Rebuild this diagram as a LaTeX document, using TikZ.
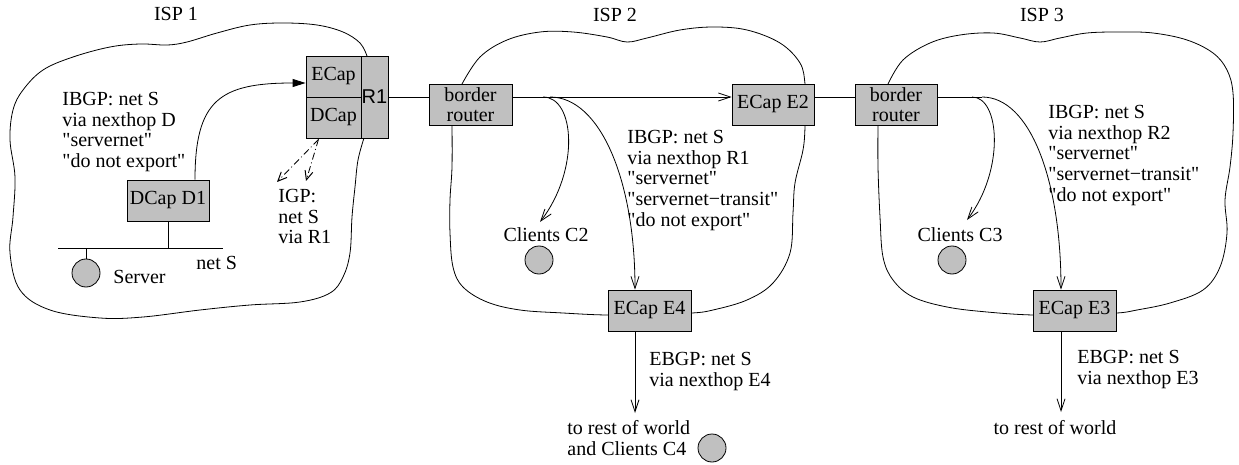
\documentclass[tikz,border=0pt]{standalone}
\usepackage{fontspec}
\setmainfont{Liberation Serif}[Ligatures=TeXOff]
\newfontfamily\arialfont{Liberation Sans}
\usetikzlibrary{arrows.meta,calc}
\definecolor{boxgray}{RGB}{192,192,192}
\begin{document}
\begin{tikzpicture}[x=1pt,y=-1pt,line width=0.8pt,
  every node/.style={font=\fontsize{20}{20.7}\selectfont,inner sep=0pt},
  box/.style={draw,fill=boxgray,minimum width=83pt,minimum height=41pt},
  circ/.style={circle,draw,fill=boxgray,minimum size=28pt},
  txt/.style={align=left,anchor=north west},
  barb/.style={-{Straight Barb[length=12pt,width=8pt]}},
  solidtip/.style={-{Triangle[length=13pt,width=8pt]}},
  igp/.style={dash pattern=on 7pt off 3pt on 1pt off 3pt,-{Straight Barb[length=9pt,width=8pt,line width=1pt]}},
  cloud/.style={smooth,tension=0.6}]
\useasboundingbox (0,0) rectangle (1239,465);

% clouds
\draw plot[cloud] coordinates {(367,56) (360,43) (343,32) (317,25) (283,23) (250,25) (217,33) (187,42) (167,45) (140,44) (110,47) (73,57) (43,70) (23,90) (13,110) (10,140) (15,177) (13,217) (10,253) (20,290) (50,310) (100,318) (143,317) (200,310) (250,305) (300,302) (330,293) (343,277) (350,253) (352,217) (355,187) (358,160) (364,138)};
\draw plot[cloud] coordinates {(462,84) (480,57) (507,40) (540,32) (573,32) (607,37) (627,42) (647,38) (680,30) (713,27) (747,30) (780,43) (800,63) (805,84) (805,104) (805,127) (803,150) (795,183) (793,213) (790,253) (773,283) (747,300) (713,310) (692,313) (650,314) (607,315) (563,313) (520,310) (487,302) (463,287) (453,267) (450,233) (450,200) (452,167) (452,125)};
\draw plot[cloud] coordinates {(888,84) (903,60) (930,43) (960,35) (993,33) (1020,38) (1040,42) (1060,38) (1087,33) (1120,32) (1153,33) (1187,40) (1213,53) (1227,70) (1233,93) (1233,133) (1230,167) (1225,200) (1227,233) (1220,267) (1203,290) (1170,303) (1137,310) (1117,313) (1075,314) (1033,315) (987,312) (947,307) (913,297) (893,280) (883,257) (880,217) (878,167) (878,125)};

% boxes
\node[box,minimum width=55pt] (ecap) at (333.5,76.5) {ECap};
\node[box,minimum width=55pt] (dcap) at (333.5,117.5) {DCap};
\node[box,minimum width=27pt,minimum height=82pt] (r1) at (374.5,97) {\arialfont R1};
\node[box,align=center,font=\fontsize{20}{20}\selectfont] (br2) at (470.5,104.5) {border\\router};
\node[box,minimum width=82pt] (e2) at (773,104.5) {ECap E2};
\node[box,minimum width=82pt,align=center,font=\fontsize{20}{20}\selectfont] (br3) at (896,104.5) {border\\router};
\node[box] (e4) at (649.5,310.5) {ECap E4};
\node[box] (e3) at (1074.5,310.5) {ECap E3};
\node[box,minimum width=82pt] (d1) at (168,200.5) {DCap D1};

% circles
\node[circ] (server) at (86,273) {};
\node[circ] (c2) at (539,260) {};
\node[circ] (c3) at (952,260) {};
\node[circ] (c4) at (712,448) {};

% coordinates
\coordinate (lineY) at (0,97);
\coordinate (netL) at (58,248);
\coordinate (netR) at (223,248);
\coordinate (igpa) at (277,182);
\coordinate (igpb) at (306,181);
\coordinate (tc2) at (540,222);
\coordinate (tc3) at (967,220);
\coordinate (w4) at (635,413);
\coordinate (w3) at (1061,412);
\coordinate (s2) at (543,97);
\coordinate (s2b) at (550,97);
\coordinate (s3) at (972,97);
\coordinate (s3b) at (982,97);

% network S
\draw (netL) -- (netR);
\draw (d1.south) -- (d1.south |- netL);
\draw (server.north) -- (server.north |- netL);

% ISP1 connectors
\draw[solidtip] ($(d1.north)+(27,0)$) .. controls (195,100) and (220,83) .. ($(ecap.west)+(0,6.5)$);
\draw[igp] ($(dcap.south)+(-15,1)$) -- (igpa);
\draw[igp] ($(dcap.south)+(-15,1)$) -- (igpb);

% inter-ISP links
\draw (r1.east |- lineY) -- (br2.west |- lineY);
\draw[barb] (br2.east |- lineY) -- (e2.west |- lineY);
\draw (e2.east |- lineY) -- (br3.west |- lineY);
\draw (br3.east |- lineY) -- (s3b);

% ISP2 connectors
\draw[barb] (s2) .. controls (575,97) and (580,170) .. (tc2);
\draw[barb] (s2b) .. controls (600,97) and (635,180) .. (w4 |- e4.north);
\draw[barb] (w4 |- e4.south) -- (w4);

% ISP3 connectors
\draw[barb] (s3) .. controls (1000,97) and (1005,170) .. (tc3);
\draw[barb] (s3b) .. controls (1030,97) and (1061,180) .. (w3 |- e3.north);
\draw[barb] (w3 |- e3.south) -- (w3);

% texts
\node[anchor=base] (isp1) at (176,21) {ISP 1};
\node[anchor=base] (isp2) at (615,22) {ISP 2};
\node[anchor=base] (isp3) at (1042,22) {ISP 3};
\node[txt] (ibgp1) at (62,90) {\rule{0pt}{15pt}IBGP: net S\\via nexthop D\\"servernet"\\"do not export"};
\node[txt] (igptxt) at (278,187) {\rule{0pt}{15pt}IGP:\\net S\\via R1};
\node[txt] (ibgp2) at (627,128) {\rule{0pt}{15pt}IBGP: net S\\via nexthop R1\\"servernet"\\"servernet−transit"\\"do not export"};
\node[txt] (ibgp3) at (1048,103) {\rule{0pt}{15pt}IBGP: net S\\via nexthop R2\\"servernet"\\"servernet−transit"\\"do not export"};
\node[txt] (ebgp4) at (649,350) {\rule{0pt}{15pt}EBGP: net S\\via nexthop E4};
\node[txt] (ebgp3) at (1077,348) {\rule{0pt}{15pt}EBGP: net S\\via nexthop E3};
\node[txt] (rest4) at (567,419) {\rule{0pt}{15pt}to rest of world\\and Clients C4};
\node[anchor=base] (rest3) at (1055,434) {to rest of world};
\node[anchor=base west] (srvtxt) at (113,283) {Server};
\node[anchor=base west] (nettxt) at (196,269) {net S};
\node[anchor=base] (c2txt) at (546,241) {Clients C2};
\node[anchor=base] (c3txt) at (960,241) {Clients C3};
\end{tikzpicture}
\end{document}
